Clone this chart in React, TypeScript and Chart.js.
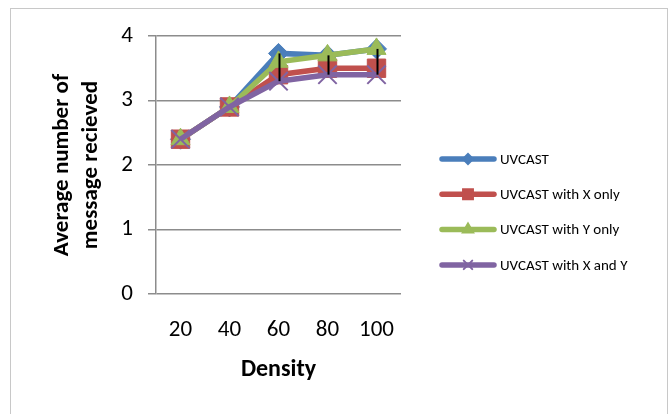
import React, { useEffect, useRef } from "react";
import { Chart, registerables } from "chart.js";
import { drawPoint } from "chart.js/helpers";

Chart.register(...registerables);

const categories = ["20", "40", "60", "80", "100"];
const seriesNames = ["UVCAST", "UVCAST with X only", "UVCAST with Y only", "UVCAST with X and Y"];
const uvcast = [2.4, 2.9, 3.73, 3.7, 3.8];
const xOnly = [2.4, 2.9, 3.4, 3.5, 3.5];
const yOnly = [2.4, 2.9, 3.6, 3.7, 3.8];
const xAndY = [2.4, 2.9, 3.3, 3.4, 3.4];
const yTickValues = [0, 1, 2, 3, 4];
const xTitle = "Density";
const yTitle = ["Average number of", "message recieved"];

const colors = ["#4A7EBB", "#C0504D", "#9BBB59", "#8064A2"];
const markers = ["rectRot", "rect", "triangle", "crossRot"];
const markerRadius = [10, 13, 11, 13];
const legendMarkerRadius = [5, 7, 6, 6];

const FONT = "Carlito, Lato, 'Open Sans', sans-serif";

const framePlugin = {
  id: "frame",
  beforeDraw(chart: any) {
    const ctx = chart.ctx;
    ctx.save();
    ctx.fillStyle = "#ffffff";
    ctx.fillRect(0, 0, chart.width, chart.height);
    ctx.strokeStyle = "#c8c8c8";
    ctx.lineWidth = 1;
    ctx.strokeRect(10.5, 8.5, 657, 430);
    ctx.restore();
  },
};

const hiLoPlugin = {
  id: "hilo",
  afterDatasetsDraw(chart: any) {
    const ctx = chart.ctx;
    const xs = chart.scales.x;
    const ys = chart.scales.y;
    const all = chart.data.datasets.map((d: any) => d.data as number[]);
    ctx.save();
    ctx.strokeStyle = "#000000";
    ctx.lineWidth = 2;
    categories.forEach((_, i) => {
      const vals = all.map((a: number[]) => a[i]);
      const hi = Math.max(...vals);
      const lo = Math.min(...vals);
      if (hi - lo < 0.01) return;
      const x = Math.round(xs.getPixelForValue(i)) + 0.5;
      ctx.beginPath();
      ctx.moveTo(x, ys.getPixelForValue(hi));
      ctx.lineTo(x, ys.getPixelForValue(lo));
      ctx.stroke();
    });
    ctx.restore();
  },
};

const legendPlugin = {
  id: "customLegend",
  afterDraw(chart: any) {
    const ctx = chart.ctx;
    ctx.save();
    seriesNames.forEach((name, i) => {
      const y = 159 + i * 35.3;
      ctx.strokeStyle = colors[i];
      ctx.lineWidth = 5.5;
      ctx.lineCap = "round";
      ctx.beginPath();
      ctx.moveTo(442, y);
      ctx.lineTo(494, y);
      ctx.stroke();
      ctx.fillStyle = colors[i];
      ctx.strokeStyle = colors[i];
      ctx.lineWidth = 2;
      drawPoint(ctx, { pointStyle: markers[i] as any, radius: legendMarkerRadius[i], rotation: 0, borderWidth: 2 } as any, 468, y);
      ctx.fillStyle = "#000000";
      ctx.font = `15px ${FONT}`;
      ctx.textAlign = "left";
      ctx.textBaseline = "middle";
      ctx.fillText(name, 500, y + 1);
    });
    ctx.restore();
  },
};

export default function App() {
  const ref = useRef<HTMLCanvasElement>(null);
  useEffect(() => {
    if (!ref.current) return;
    const seriesData = [uvcast, xOnly, yOnly, xAndY];
    const chart = new Chart(ref.current, {
      type: "line",
      data: {
        labels: categories,
        datasets: seriesData.map((d, i) => ({
          label: seriesNames[i],
          data: d,
          borderColor: colors[i],
          backgroundColor: colors[i],
          borderWidth: 5.5,
          pointStyle: markers[i] as any,
          pointRadius: markerRadius[i],
          pointBorderWidth: i === 3 ? 2 : 1,
          pointBackgroundColor: colors[i],
          pointBorderColor: colors[i],
          tension: 0,
          order: 4 - i,
        })),
      },
      options: {
        responsive: false,
        animation: false,
        events: [],
        layout: { padding: { left: 0, top: 36, right: 269, bottom: 20 } },
        plugins: {
          legend: { display: false },
          tooltip: { enabled: false },
        },
        scales: {
          x: {
            type: "category",
            offset: true,
            grid: { display: false, drawTicks: false },
            border: { display: false },
            ticks: { color: "#000000", font: { family: FONT, size: 23 }, padding: 22, maxRotation: 0 },
            title: { display: true, text: xTitle, color: "#000000", font: { family: FONT, size: 24, weight: "bold" }, padding: { top: 0, bottom: 10 } },
            afterFit: (s: any) => { s.height = 100; },
          },
          y: {
            min: 0,
            max: 4,
            afterBuildTicks: (s: any) => { s.ticks = yTickValues.map((v) => ({ value: v })); },
            grid: { color: "#8c8c8c", lineWidth: 1.5, tickLength: 8, drawTicks: true },
            border: { display: true, color: "#8c8c8c", width: 1.5 },
            ticks: { color: "#000000", font: { family: FONT, size: 23 }, padding: 15 },
            title: { display: true, text: yTitle, color: "#000000", font: { family: FONT, size: 23, weight: "bold", lineHeight: 1.25 }, padding: { top: 48, bottom: 0 } },
            afterFit: (s: any) => { s.width = 156; },
          },
        },
      },
      plugins: [framePlugin, hiLoPlugin, legendPlugin],
    });
    return () => chart.destroy();
  }, []);
  return (
    <div style={{ position: "fixed", left: 0, top: 0, width: 670, height: 414 }}>
      <canvas ref={ref} width={670} height={414} style={{ display: "block" }} />
    </div>
  );
}
